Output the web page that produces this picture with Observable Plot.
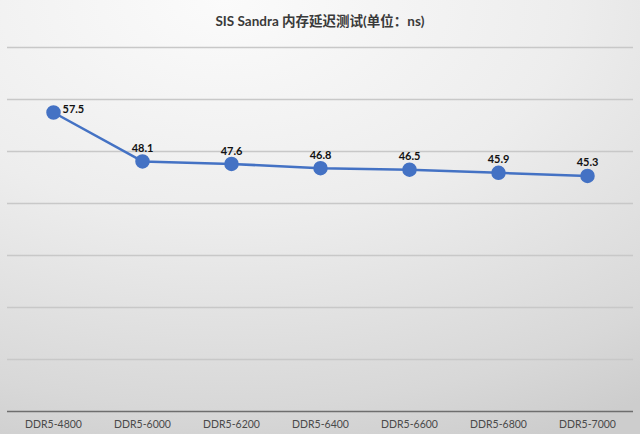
<!DOCTYPE html>
<html>
<head>
<meta charset="utf-8">
<script src="https://cdn.jsdelivr.net/npm/d3@7"></script>
<script src="https://cdn.jsdelivr.net/npm/@observablehq/plot@0.6"></script>
<style>
  html, body { margin: 0; padding: 0; }
  #wrap {
    width: 640px; height: 434px; position: relative; overflow: hidden;
    background: radial-gradient(ellipse 120% 110% at 35% 0%, #fbfbfb 0%, #ededed 45%, #d8d8d8 85%, #cdcdcd 100%);
    font-family: Lato, "Noto Sans CJK SC", sans-serif;
  }
  #title {
    height: 40px; line-height: 42px; text-align: center;
    font-size: 13.5px; font-weight: bold; color: #3a3a3a;
    font-family: Lato, "Noto Sans CJK SC", sans-serif;
  }
  svg { display: block; background: transparent !important; }
</style>
</head>
<body>
<div id="wrap">
  <div id="title">SIS Sandra 内存延迟测试(单位：ns)</div>
  <div id="chart"></div>
</div>
<script>
const categories = ["DDR5-4800", "DDR5-6000", "DDR5-6200", "DDR5-6400", "DDR5-6600", "DDR5-6800", "DDR5-7000"];
const latency = [57.5, 48.1, 47.6, 46.8, 46.5, 45.9, 45.3];
const yTicks = [10, 20, 30, 40, 50, 60, 70];

const data = categories.map((c, i) => ({cat: c, v: latency[i], first: i === 0}));

const chart = Plot.plot({
  width: 640,
  height: 394,
  marginTop: 7,
  marginBottom: 23,
  marginLeft: 7,
  marginRight: 7,
  style: {background: "transparent", fontFamily: "Lato, 'Noto Sans CJK SC', sans-serif", overflow: "visible"},
  x: {type: "point", domain: categories, padding: 0.5, label: null},
  y: {domain: [0, 70], label: null, axis: null},
  marks: [
    Plot.ruleY(yTicks, {stroke: "#c8c8c8", strokeWidth: 1.5}),
    Plot.ruleY([0], {stroke: "#6e6e6e", strokeWidth: 1.5}),
    Plot.axisX({tickSize: 0, tickPadding: 9, fontSize: 10.5, fill: "#4a4a4a", label: null}),
    Plot.line(data, {x: "cat", y: "v", stroke: "#4472C4", strokeWidth: 2.5}),
    Plot.dot(data, {x: "cat", y: "v", r: 6.5, fill: "#4472C4", stroke: "#4472C4"}),
    Plot.text(data.filter(d => d.first), {x: "cat", y: "v", text: d => d.v.toFixed(1), dx: 9, dy: -3, textAnchor: "start", fontWeight: "bold", fontSize: 11, fill: "#111"}),
    Plot.text(data.filter(d => !d.first), {x: "cat", y: "v", text: d => d.v.toFixed(1), dy: -13, fontWeight: "bold", fontSize: 11, fill: "#111"})
  ]
});
document.getElementById("chart").appendChild(chart);
</script>
</body>
</html>
